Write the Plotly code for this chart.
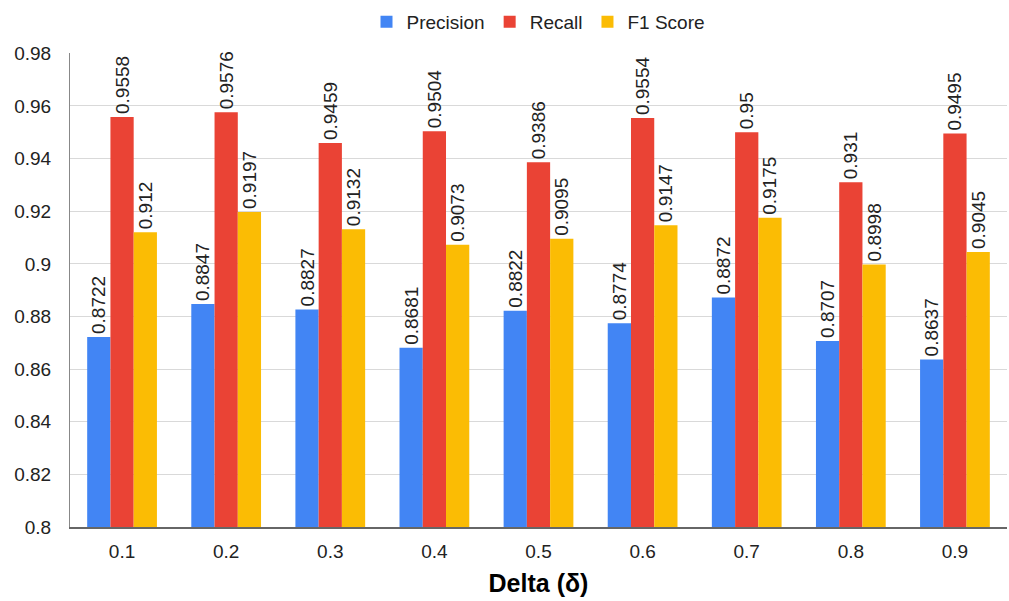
import plotly.graph_objects as go

deltas = ["0.1", "0.2", "0.3", "0.4", "0.5", "0.6", "0.7", "0.8", "0.9"]
precision = [0.8722, 0.8847, 0.8827, 0.8681, 0.8822, 0.8774, 0.8872, 0.8707, 0.8637]
recall = [0.9558, 0.9576, 0.9459, 0.9504, 0.9386, 0.9554, 0.95, 0.931, 0.9495]
f1_score = [0.912, 0.9197, 0.9132, 0.9073, 0.9095, 0.9147, 0.9175, 0.8998, 0.9045]

y_ticks = [0.8, 0.82, 0.84, 0.86, 0.88, 0.9, 0.92, 0.94, 0.96, 0.98]
y_tick_text = ["0.8", "0.82", "0.84", "0.86", "0.88", "0.9", "0.92", "0.94", "0.96", "0.98"]

series = [
    ("Precision", precision, "#4285F4"),
    ("Recall", recall, "#EA4335"),
    ("F1 Score", f1_score, "#FBBC04"),
]

FONT = "Liberation Sans, Arial, sans-serif"
TEXT = "#222222"

fig = go.Figure()
for name, vals, color in series:
    fig.add_trace(go.Bar(
        name=name,
        x=deltas,
        y=vals,
        marker=dict(color=color, line=dict(width=0)),
        text=[f"{v:g}" for v in vals],
        textposition="outside",
        textangle=-90,
        constraintext="none",
        cliponaxis=False,
        textfont=dict(family=FONT, size=19, color=TEXT),
    ))

fig.update_layout(
    width=1009,
    height=601,
    margin=dict(l=70, r=2, t=48, b=74),
    paper_bgcolor="white",
    plot_bgcolor="white",
    barmode="group",
    bargap=0.33,
    bargroupgap=0,
    font=dict(family=FONT, size=19, color=TEXT),
    legend=dict(
        orientation="h",
        x=0.5,
        xanchor="center",
        y=0.995,
        yanchor="top",
        yref="container",
        font=dict(family=FONT, size=19, color=TEXT),
        itemwidth=30,
        traceorder="normal",
    ),
)

fig.update_xaxes(
    showgrid=False,
    showline=True,
    linecolor="#666666",
    linewidth=1.5,
    ticks="",
    ticklabelstandoff=6,
    tickfont=dict(family=FONT, size=19, color=TEXT),
    title=dict(text="<b>Delta (δ)</b>", font=dict(family=FONT, size=25, color="#000000"), standoff=14),
)
fig.update_yaxes(
    range=[0.8, 0.98],
    tickvals=y_ticks,
    ticktext=y_tick_text,
    showgrid=True,
    gridcolor="#D9D9D9",
    gridwidth=1,
    showline=True,
    linecolor="#888888",
    linewidth=1,
    zeroline=False,
    ticks="",
    ticklabelstandoff=14,
    tickfont=dict(family=FONT, size=19, color=TEXT),
)

fig.write_html("out.html")
